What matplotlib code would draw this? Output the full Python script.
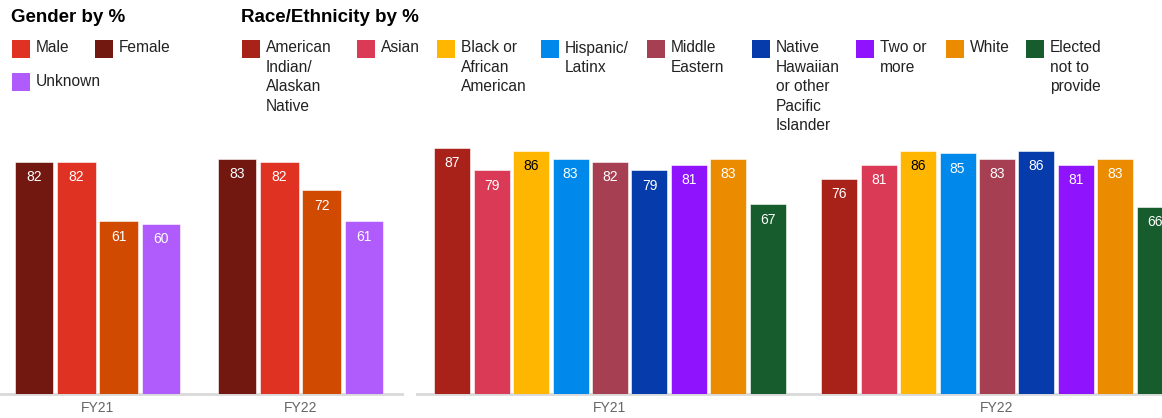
import numpy as np
import matplotlib
matplotlib.use('Agg')
import matplotlib.pyplot as plt
from matplotlib.patches import Rectangle

plt.rcParams['font.family'] = ['Liberation Sans', 'DejaVu Sans']

# 数据
years = ['FY21', 'FY22']

gender_labels = ['Female', 'Male', 'Other', 'Unknown']
gender_values = {
    'Female': [82, 83],
    'Male': [82, 82],
    'Other': [61, 72],
    'Unknown': [60, 61],
}
gender_colors = ['#721811', '#e03222', '#d04a02', '#b05bfc']

race_labels = ['American\nIndian/\nAlaskan\nNative', 'Asian', 'Black or\nAfrican\nAmerican',
               'Hispanic/\nLatinx', 'Middle\nEastern', 'Native\nHawaiian\nor other\nPacific\nIslander',
               'Two or\nmore', 'White', 'Elected\nnot to\nprovide']
race_fy21 = [87, 79, 86, 83, 82, 79, 81, 83, 67]
race_fy22 = [76, 81, 86, 85, 83, 86, 81, 83, 66]
race_colors = ['#a8221a', '#db3a56', '#ffb600', '#0089eb', '#a53f51',
               '#063bab', '#9013fe', '#eb8c00', '#175c2c']

W, H = 1162, 418


def px(x, y):
    # 像素坐标 -> figure 坐标 (左上角为原点)
    return x / W, 1 - y / H


def add_axes_px(left, top, width, height):
    l, t = px(left, top)
    return fig.add_axes([l, t - height / H, width / W, height / H])


def style_axes(ax):
    ax.set_ylim(0, 100)
    ax.set_xlim(-0.5, 1.5)
    for s in ax.spines.values():
        s.set_visible(False)
    ax.set_yticks([])
    ax.set_xticks(range(len(years)))
    ax.set_xticklabels(years, fontsize=10, color='#666666')
    ax.tick_params(axis='x', length=0, pad=5)
    ax.axhline(0, color='#d9d9d9', lw=2, zorder=0, clip_on=False)


def label_bars(ax, bars, values, color):
    tc = 'black' if color == '#ffb600' else 'white'
    for b, v in zip(bars, values):
        ax.annotate(str(v), (b.get_x() + b.get_width() / 2, v),
                    xytext=(0, -11), textcoords='offset points',
                    ha='center', va='center', fontsize=10, color=tc)


def legend_item(x, y, color, text):
    l, t = px(x, y)
    fig.patches.append(Rectangle((l, t - 18 / H), 18 / W, 18 / H, transform=fig.transFigure,
                                 facecolor=color, edgecolor='none'))
    tx, ty = px(x + 24, y + 0.5)
    fig.text(tx, ty, text, fontsize=11.2, color='#222222', va='top', ha='left', linespacing=1.37)


fig = plt.figure(figsize=(W / 100, H / 100), dpi=100)

# 性别
ax1 = add_axes_px(-4, 111, 406, 283)
x = np.arange(len(years))
pitch, width = 0.208, 0.19
for i, name in enumerate(gender_labels):
    vals = gender_values[name]
    bars = ax1.bar(x + (i - 1.5) * pitch, vals, width, color=gender_colors[i],
                   edgecolor='white', linewidth=0.4)
    label_bars(ax1, bars, vals, gender_colors[i])
style_axes(ax1)

# 种族
ax2 = add_axes_px(416.5, 111, 774, 283)
pitch, width = 0.102, 0.093
for i in range(len(race_labels)):
    vals = [race_fy21[i], race_fy22[i]]
    bars = ax2.bar(x + (i - 4) * pitch, vals, width, color=race_colors[i],
                   edgecolor='white', linewidth=0.4)
    label_bars(ax2, bars, vals, race_colors[i])
style_axes(ax2)

# 标题
fig.text(*px(11, 21.7), 'Gender by %', fontsize=13.5, fontweight='bold', va='baseline')
fig.text(*px(241, 21.7), 'Race/Ethnicity by %', fontsize=13.5, fontweight='bold', va='baseline')

# 图例
g_map = dict(zip(gender_labels, gender_colors))
legend_item(12, 40, g_map['Male'], 'Male')
legend_item(95, 40, g_map['Female'], 'Female')
legend_item(12, 73, g_map['Unknown'], 'Unknown')

race_legend_x = [242, 357, 437, 541, 647, 752, 856, 946, 1026]
for lx, c, t in zip(race_legend_x, race_colors, race_labels):
    legend_item(lx, 40, c, t)

fig.savefig('out.png', dpi=100)
